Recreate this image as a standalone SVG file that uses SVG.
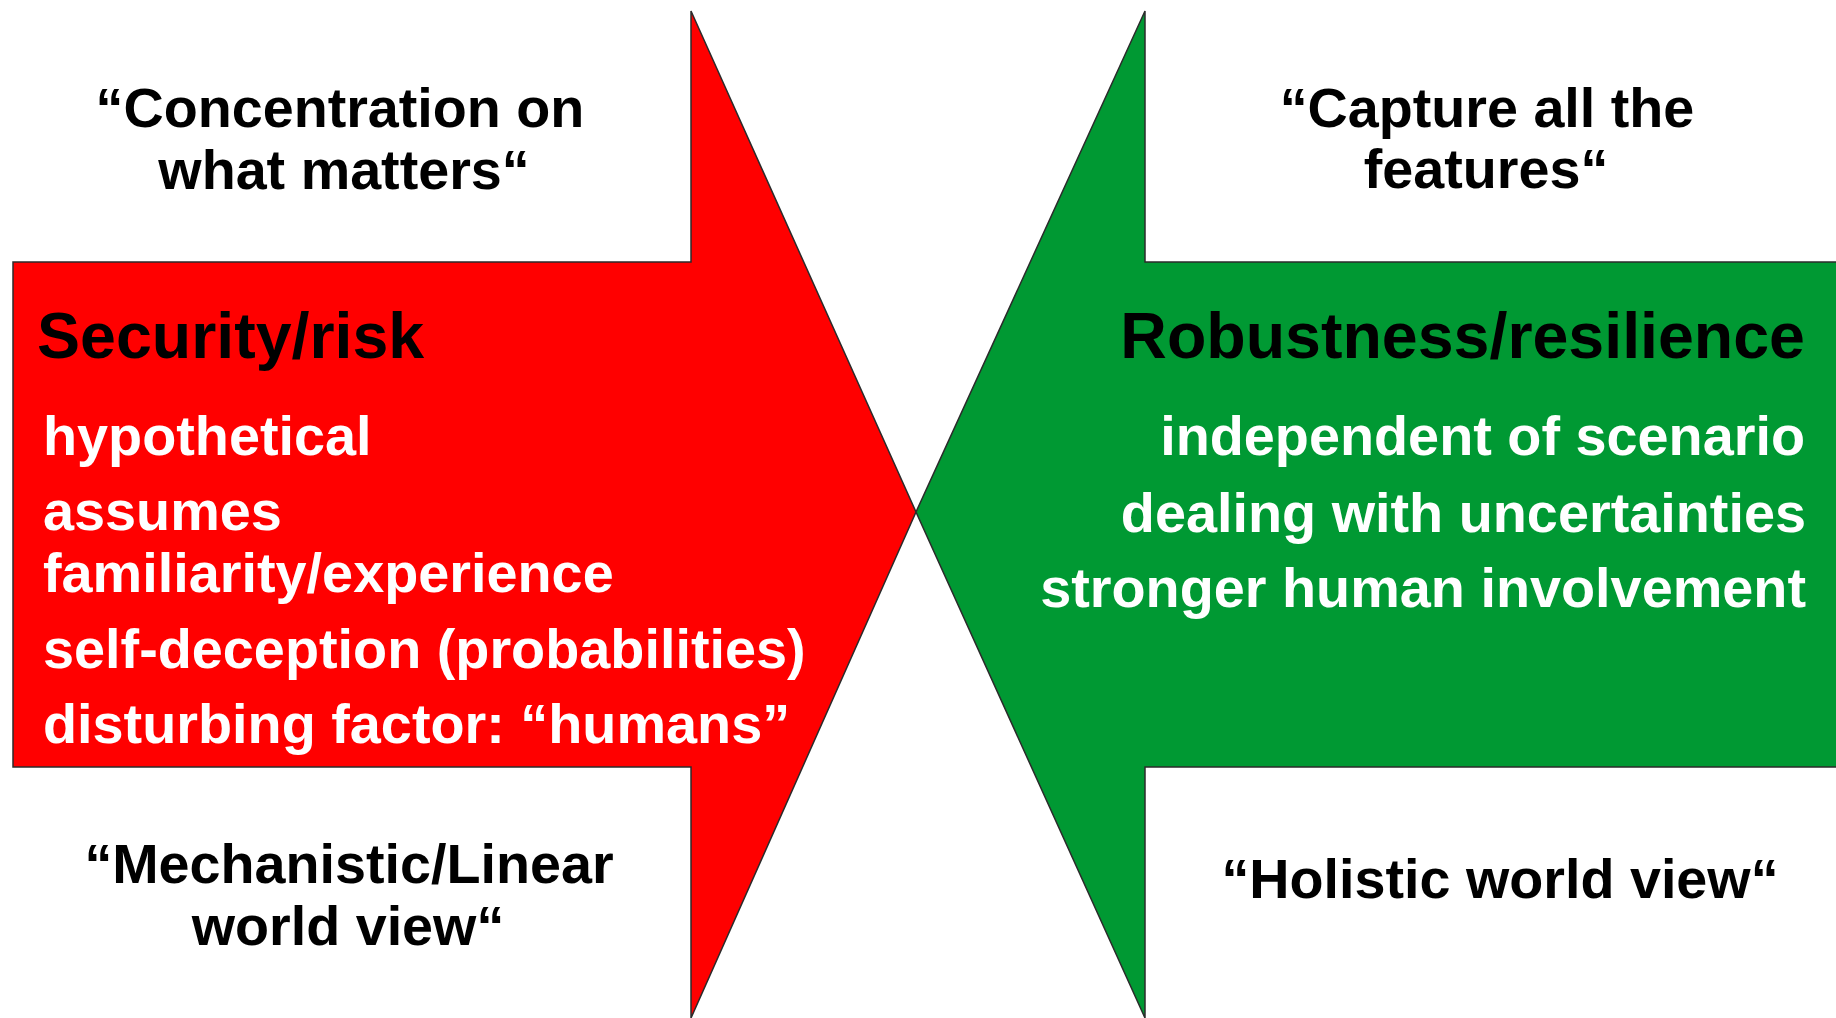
<svg xmlns="http://www.w3.org/2000/svg" width="1836" height="1018" viewBox="0 0 1836 1018">
  <style>
    .arrow { stroke: #2b2b2b; stroke-width: 1.5; stroke-linejoin: miter; }
    .red { fill: #ff0000; }
    .green { fill: #009933; }
    text { font-family: "Liberation Sans", Arial, sans-serif; font-weight: bold; }
    .quote { font-size: 55.7px; fill: #000; text-anchor: middle; }
    .head { font-size: 64.5px; fill: #000; }
    .item { font-size: 55.8px; fill: #fff; }
    .right { text-anchor: end; }
  </style>
  <rect width="1836" height="1018" fill="#fff"/>

  <!-- Security/risk arrow pointing right -->
  <g id="security-risk">
    <path class="arrow red" d="M13 262 H691 V11 L916 512 L691 1018 V767 H13 Z"/>
    <text class="head" x="37" y="358">Security/risk</text>
    <text class="item" x="43" y="455">hypothetical</text>
    <text class="item" x="43" y="530">assumes</text>
    <text class="item" x="43" y="592">familiarity/experience</text>
    <text class="item" x="43" y="668">self-deception (probabilities)</text>
    <text class="item" x="43" y="743">disturbing factor: “humans”</text>
  </g>

  <!-- Robustness/resilience arrow pointing left -->
  <g id="robustness-resilience">
    <path class="arrow green" d="M1840 262 H1145 V11 L916 512 L1145 1018 V767 H1840 Z"/>
    <text class="head right" x="1805" y="358">Robustness/resilience</text>
    <text class="item right" x="1805" y="455">independent of scenario</text>
    <text class="item right" x="1806" y="532">dealing with uncertainties</text>
    <text class="item right" x="1806" y="607">stronger human involvement</text>
  </g>

  <!-- Captions -->
  <g id="caption-concentration">
    <text class="quote" x="340" y="127">“Concentration on</text>
    <text class="quote" x="344" y="189">what matters“</text>
  </g>
  <g id="caption-mechanistic">
    <text class="quote" x="349" y="883">“Mechanistic/Linear</text>
    <text class="quote" x="348" y="945">world view“</text>
  </g>
  <g id="caption-capture">
    <text class="quote" x="1487" y="127">“Capture all the</text>
    <text class="quote" x="1486" y="188">features“</text>
  </g>
  <g id="caption-holistic">
    <text class="quote" x="1500" y="898">“Holistic world view“</text>
  </g>

  <g id="connectors"/>
</svg>
